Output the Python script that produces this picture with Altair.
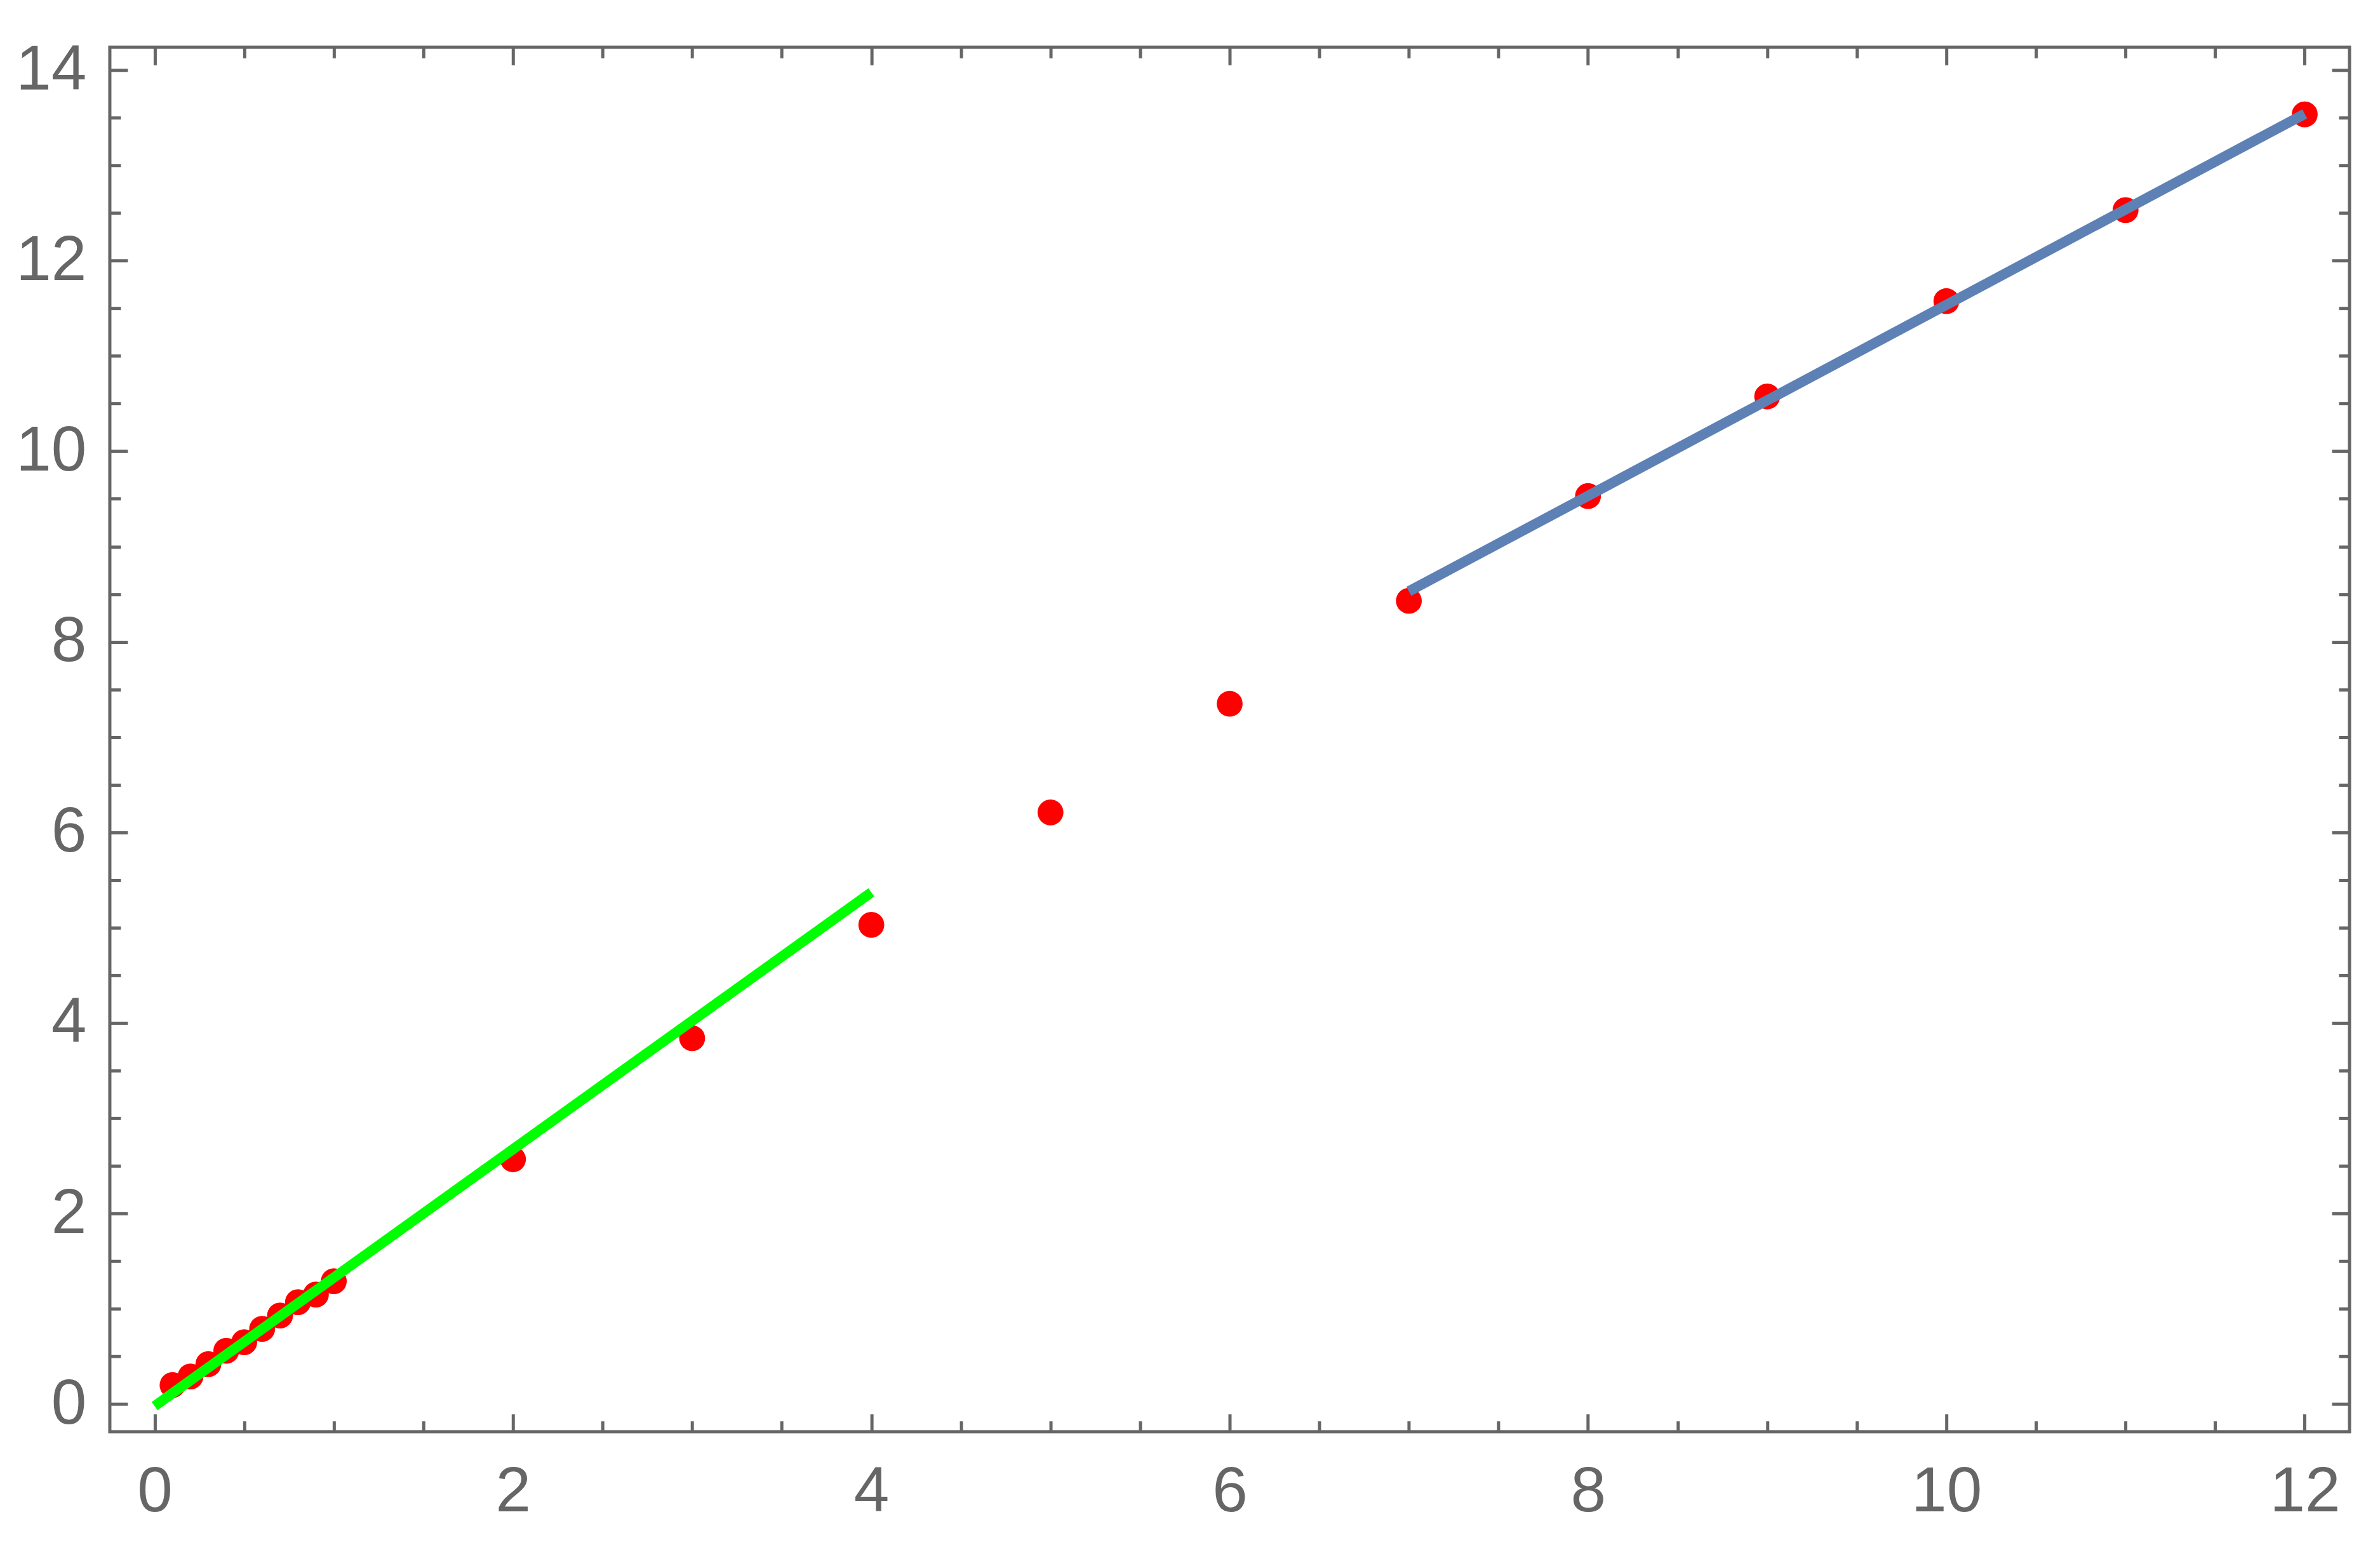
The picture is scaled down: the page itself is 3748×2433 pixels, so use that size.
import altair as alt
import pandas as pd

# ---- data ----
x_pts = [0.1, 0.2, 0.3, 0.4, 0.5, 0.6, 0.7, 0.8, 0.9, 1.0,
         2, 3, 4, 5, 6, 7, 8, 9, 10, 11, 12]
y_pts = [0.20, 0.29, 0.42, 0.56, 0.65, 0.79, 0.93, 1.07, 1.15, 1.29,
         2.57, 3.84, 5.03, 6.21, 7.35, 8.43, 9.53, 10.575, 11.575, 12.53, 13.535]

green_x = [0, 4]
green_y = [-0.02, 5.37]

blue_x = [7, 12]
blue_y = [8.53, 13.54]

x_major = [0, 2, 4, 6, 8, 10, 12]
y_major = [0, 2, 4, 6, 8, 10, 12, 14]
x_minor = [v / 2 for v in range(0, 25) if v % 4 != 0]
y_minor = [v / 2 for v in range(0, 29) if v % 4 != 0]

x_domain = [-0.25, 12.25]
y_domain = [-0.29, 14.24]

GRAY = "#666666"
FONT = "Liberation Sans"

pts = pd.DataFrame({"x": x_pts, "y": y_pts})
green = pd.DataFrame({"x": green_x, "y": green_y})
blue = pd.DataFrame({"x": blue_x, "y": blue_y})

xs = alt.Scale(domain=x_domain, nice=False, zero=False)
ys = alt.Scale(domain=y_domain, nice=False, zero=False)


def ax(orient, values, length, labels, pad=0):
    kw = dict(
        orient=orient, values=values, offset=-length, tickSize=length,
        tickWidth=5, tickColor=GRAY, domain=False, grid=False,
        labels=labels, title=None,
    )
    if labels:
        kw.update(labelFont=FONT, labelFontSize=100, labelColor=GRAY,
                  labelPadding=pad, labelFlush=False, labelOverlap=False,
                  format="d")
    return alt.Axis(**kw)


MAJ, MIN = 28, 17

points = alt.Chart(pts).mark_circle(size=1660, color="#FF0000", opacity=1).encode(
    x=alt.X("x:Q", scale=xs, axis=ax("bottom", x_minor, MIN, False)),
    y=alt.Y("y:Q", scale=ys, axis=ax("left", y_minor, MIN, False)),
)

ghost = alt.Chart(pts).mark_circle(size=10, opacity=0).encode(
    x=alt.X("x:Q", scale=xs, axis=ax("top", x_minor, MIN, False)),
    y=alt.Y("y:Q", scale=ys, axis=ax("right", y_minor, MIN, False)),
)

green_line = alt.Chart(green).mark_line(color="#00FF00", strokeWidth=16, strokeCap="butt").encode(
    x=alt.X("x:Q", scale=xs, axis=ax("bottom", x_major, MAJ, True, pad=46)),
    y=alt.Y("y:Q", scale=ys, axis=ax("left", y_major, MAJ, True, pad=37)),
)

blue_line = alt.Chart(blue).mark_line(color="#5E81B5", strokeWidth=16, strokeCap="butt").encode(
    x=alt.X("x:Q", scale=xs, axis=ax("top", x_major, MAJ, False)),
    y=alt.Y("y:Q", scale=ys, axis=ax("right", y_major, MAJ, False)),
)

chart = (
    alt.layer(points, ghost, green_line, blue_line)
    .resolve_axis(x="independent", y="independent")
    .properties(
        width=3528, height=2181,
        autosize=alt.AutoSizeParams(type="none"),
        padding={"left": 165, "top": 66, "right": 40, "bottom": 170},
        background="white",
    )
    .configure_view(stroke=GRAY, strokeWidth=5)
)

chart.save("out.html", embed_options={"renderer": "svg", "actions": False})
